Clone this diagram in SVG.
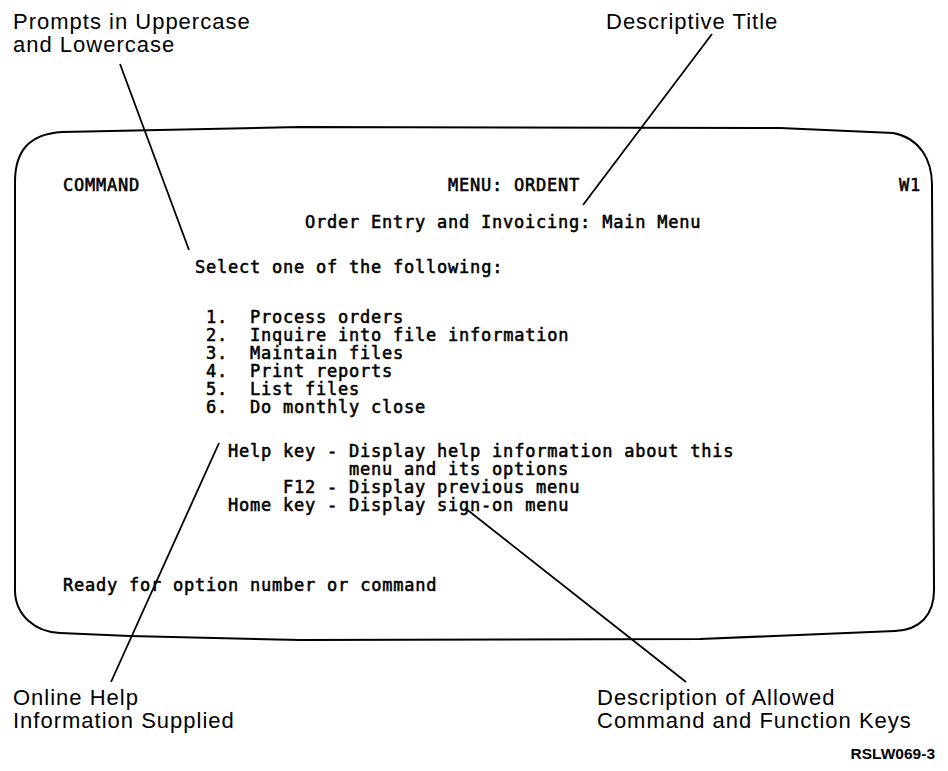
<svg xmlns="http://www.w3.org/2000/svg" width="948" height="771" viewBox="0 0 948 771">
  <style>
    .scr { font-family: "DejaVu Sans Mono", "Liberation Mono", monospace; font-size: 17px; font-weight: normal; letter-spacing: 0.77px; fill: #000; stroke: #000; stroke-width: 0.55px; white-space: pre; }
    .lbl { font-family: "Liberation Sans", Arial, sans-serif; font-size: 22px; letter-spacing: 1px; fill: #000; }
    .fig { font-family: "Liberation Sans", Arial, sans-serif; font-size: 15.5px; font-weight: bold; fill: #000; }
    .frame { fill: none; stroke: #000; stroke-width: 2; stroke-linejoin: round; }
    .lead { stroke: #000; stroke-width: 1.8; fill: none; }
  </style>

  <!-- display screen outline -->
  <g id="screen">
    <path class="frame" d="M 15,182 C 15,150 30,134 62,132 L 300,127 L 780,128 L 893,133 C 920,138 932,160 932,185 L 934,590 C 934,615 920,630 895,631 L 700,639 L 300,640 L 130,636 L 60,633 C 35,632 15,615 15,590 Z"/>
  </g>

  <!-- menu screen text, monospace grid of 11px columns starting at x=63 -->
  <g id="screen-text">
    <text class="scr" x="63" y="191">COMMAND</text>
    <text class="scr" x="448" y="191">MENU: ORDENT</text>
    <text class="scr" x="899" y="191">W1</text>
    <text class="scr" x="305" y="228">Order Entry and Invoicing: Main Menu</text>
    <text class="scr" x="195" y="273">Select one of the following:</text>
    <text class="scr" x="206" y="323">1.  Process orders</text>
    <text class="scr" x="206" y="341">2.  Inquire into file information</text>
    <text class="scr" x="206" y="359">3.  Maintain files</text>
    <text class="scr" x="206" y="377">4.  Print reports</text>
    <text class="scr" x="206" y="395">5.  List files</text>
    <text class="scr" x="206" y="413">6.  Do monthly close</text>
    <text class="scr" x="228" y="457">Help key - Display help information about this</text>
    <text class="scr" x="349" y="475">menu and its options</text>
    <text class="scr" x="283" y="493">F12 - Display previous menu</text>
    <text class="scr" x="228" y="511">Home key - Display sign-on menu</text>
    <text class="scr" x="63" y="591">Ready for option number or command</text>
  </g>

  <!-- callout labels -->
  <g id="label-prompts">
    <text class="lbl" x="13" y="29">Prompts in Uppercase</text>
    <text class="lbl" x="13" y="52">and Lowercase</text>
  </g>
  <g id="label-title">
    <text class="lbl" x="606" y="29">Descriptive Title</text>
  </g>
  <g id="label-help">
    <text class="lbl" x="13" y="705">Online Help</text>
    <text class="lbl" x="13" y="728">Information Supplied</text>
  </g>
  <g id="label-keys">
    <text class="lbl" x="597" y="705">Description of Allowed</text>
    <text class="lbl" x="597" y="728">Command and Function Keys</text>
  </g>
  <g id="figure-id">
    <text class="fig" x="935" y="759" text-anchor="end">RSLW069-3</text>
  </g>

  <!-- leader lines -->
  <g id="connectors">
    <line class="lead" x1="120" y1="64" x2="189" y2="250"/>
    <line class="lead" x1="712" y1="34" x2="583" y2="205"/>
    <line class="lead" x1="111" y1="682" x2="219" y2="443"/>
    <line class="lead" x1="465" y1="508" x2="686" y2="682"/>
  </g>
</svg>
